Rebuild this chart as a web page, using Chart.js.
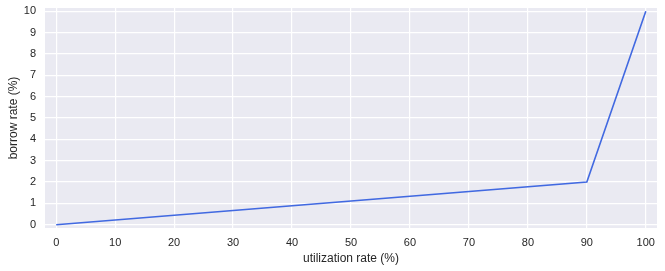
<!DOCTYPE html>
<html><head><meta charset="utf-8">
<script src="https://cdn.jsdelivr.net/npm/chart.js@4"></script>
<style>html,body{margin:0;padding:0;background:#fff}#wrap{width:665px;height:271px}</style>
</head><body><div id="wrap"><canvas id="c" width="665" height="271"></canvas></div>
<script>
const utilization = [0, 90, 100];
const borrowRate = [0, 2, 10];
const xTicks = [0,10,20,30,40,50,60,70,80,90,100];
const yTicks = [0,1,2,3,4,5,6,7,8,9,10];

const bgPlugin = {
  id: 'bg',
  beforeDraw(chart) {
    const {ctx, chartArea:a} = chart;
    ctx.save();
    ctx.fillStyle = '#EAEAF2';
    ctx.fillRect(a.left, a.top, a.right - a.left, a.bottom - a.top);
    ctx.restore();
  }
};

new Chart(document.getElementById('c'), {
  type: 'line',
  data: {
    datasets: [{
      data: utilization.map((x, i) => ({x, y: borrowRate[i]})),
      borderColor: '#4169E1',
      borderWidth: 1.6,
      pointRadius: 0,
      tension: 0,
      fill: false
    }]
  },
  options: {
    responsive: false,
    animation: false,
    layout: {padding: {top: 8, right: 8, left: 0, bottom: 5}},
    plugins: {legend: {display: false}, tooltip: {enabled: false}},
    scales: {
      x: {
        type: 'linear', min: -1.9, max: 101.9,
        afterBuildTicks: s => { s.ticks = xTicks.map(v => ({value: v})); },
        afterFit: s => { s.height = 38; s.paddingLeft = 0; s.paddingRight = 0; },
        grid: {color: '#ffffff', lineWidth: 1.2, drawTicks: false},
        border: {display: false},
        ticks: {color: '#262626', font: {family: 'Liberation Sans, Arial', size: 11}, padding: 8, maxRotation: 0, autoSkip: false},
        title: {display: true, text: 'utilization rate (%)', color: '#262626', font: {family: 'Liberation Sans, Arial', size: 12}, padding: {top: 2, bottom: 0}}
      },
      y: {
        type: 'linear', min: -0.15, max: 10.15,
        afterBuildTicks: s => { s.ticks = yTicks.map(v => ({value: v})); },
        afterFit: s => { s.width = 45; s.paddingTop = 0; s.paddingBottom = 0; },
        grid: {color: '#ffffff', lineWidth: 1.2, drawTicks: false},
        border: {display: false},
        ticks: {color: '#262626', font: {family: 'Liberation Sans, Arial', size: 11}, padding: 9, autoSkip: false},
        title: {display: true, text: 'borrow rate (%)', color: '#262626', font: {family: 'Liberation Sans, Arial', size: 12}, padding: {top: 6, bottom: 0}}
      }
    }
  },
  plugins: [bgPlugin]
});
</script></body></html>
